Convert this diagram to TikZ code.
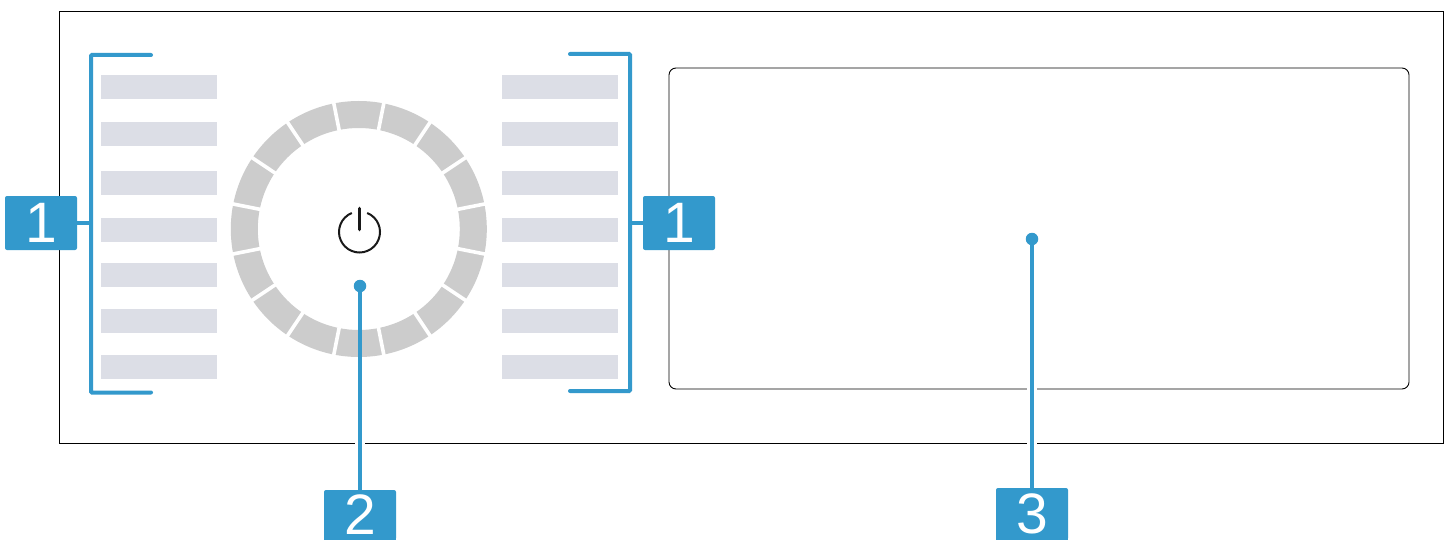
\documentclass[tikz,border=0pt]{standalone}
\usepackage{fontspec}
\usetikzlibrary{calc}
\setmainfont{Liberation Sans}
\definecolor{calloutblue}{HTML}{3399CC}
\definecolor{bargrey}{HTML}{DCDEE6}
\definecolor{ringgrey}{HTML}{CCCCCC}
\tikzset{
  badge/.style={fill=calloutblue,text=white,rounded corners=2pt,minimum width=72pt,minimum height=54pt,inner sep=0pt,font=\fontsize{57pt}{57pt}\selectfont},
  leader/.style={draw=calloutblue,line width=4pt},
  dotend/.style={circle,fill=calloutblue,minimum size=12.5pt,inner sep=0pt},
  barbox/.style={fill=bargrey,minimum width=116pt,minimum height=24pt,inner sep=0pt},
  outline/.style={draw=black,line width=0.9pt},
}
\begin{document}
\begin{tikzpicture}[x=1pt,y=-1pt]
\useasboundingbox (0,0) rectangle (1447,540);
\clip (0,0) rectangle (1447,540);
\fill[white] (0,0) rectangle (1447,540);
% frame and display
\node[outline,minimum width=1384pt,minimum height=432pt,inner sep=0pt] (frame) at (751,227) {};
\node[outline,rounded corners=7pt,minimum width=740pt,minimum height=321pt,inner sep=0pt] (display) at (1039,228.5) {};
% bars
\foreach \n/\y in {1/87,2/134,3/183,4/230,5/275,6/321,7/367}{
  \node[barbox] (l\n) at (159,\y) {};
  \node[barbox] (r\n) at (560,\y) {};
}
% ring
\coordinate (ringc) at (358.8,229);
\fill[ringgrey,even odd rule] (ringc) circle[radius=128] (ringc) circle[radius=101];
\foreach \a in {11.25,33.75,...,348.75}{
  \draw[white,line width=3.6pt] ($(ringc)+(\a:98)$) -- ($(ringc)+(\a:131)$);
}
% power symbol
\coordinate (pwr) at (359.5,232);
\draw[black!90,line width=2pt] ($(pwr)+(-68:20.5)$) arc[start angle=-68,end angle=248,radius=20.5];
\draw[black!90,line width=3.6pt,line cap=round] (359.5,208.5) -- (359.5,229.5);
% callouts
\node[dotend] (d2) at (360,286) {};
\node[dotend] (d3) at (1032,239) {};
\node[badge] (b1l) at (41,223) {1};
\node[badge] (b1r) at (679,223) {1};
\fill[calloutblue] (324,530) rectangle (396,540);
\fill[calloutblue] (996,530) rectangle (1068,540);
\node[badge,minimum height=50pt] (b2) at (360,515) {\raisebox{-2pt}{2}};
\node[badge,minimum height=52pt] (b3) at (1032,514) {\raisebox{-1.5pt}{3}};
% white gaps in the outlines
\draw[white,line width=10pt] (360,442) -- (360,444);
\draw[white,line width=10pt] (1032,442) -- (1032,444);
\draw[white,line width=10pt] (1032,388) -- (1032,390);
\draw[leader] (d2) -- (b2);
\draw[leader] (d3) -- (b3);
% brackets
\coordinate (la) at (151,55);
\coordinate (lb) at (91,55);
\coordinate (lc) at (91,392.5);
\coordinate (ld) at (151,392.5);
\coordinate (ls) at (91,223);
\draw[leader,line cap=round,rounded corners=1pt] (la) -- (lb) -- (lc) -- (ld);
\draw[leader] (b1l.east) -- (ls);
\coordinate (ra) at (570,54);
\coordinate (rb) at (630,54);
\coordinate (rc) at (630,391);
\coordinate (rd) at (570,391);
\coordinate (rs) at (630,223);
\draw[leader,line cap=round,rounded corners=1pt] (ra) -- (rb) -- (rc) -- (rd);
\draw[leader] (b1r.west) -- (rs);
\end{tikzpicture}
\end{document}
